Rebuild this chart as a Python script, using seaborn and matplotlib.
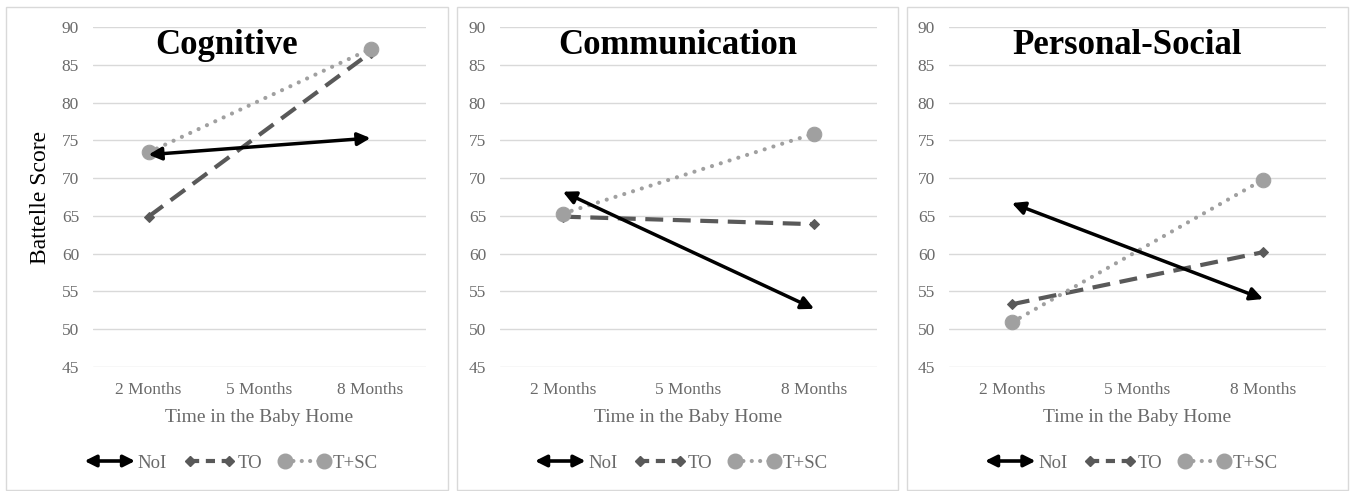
import matplotlib
matplotlib.use("Agg")
import matplotlib.pyplot as plt
import seaborn as sns
import pandas as pd
from matplotlib.lines import Line2D
from matplotlib.patches import FancyArrowPatch, Rectangle
from matplotlib.legend_handler import HandlerBase

# ---- data ----
months = ["2 Months", "5 Months", "8 Months"]
measured = ["2 Months", "8 Months"]
domains = ["Cognitive", "Communication", "Personal-Social"]
groups = ["NoI", "TO", "T+SC"]

noi = [[73.1, 75.3], [68.2, 52.7], [66.7, 54.0]]
to = [[64.9, 86.6], [64.9, 63.9], [53.3, 60.2]]
tsc = [[73.4, 87.1], [65.3, 75.9], [50.9, 69.8]]

yticks = list(range(45, 95, 5))

sns.set_theme(style="white")
plt.rcParams["font.family"] = ["Liberation Serif", "DejaVu Serif"]

W, H = 1351, 491
fig = plt.figure(figsize=(W / 100, H / 100), dpi=100)

c_noi, c_to, c_tsc = "black", "#595959", "#a0a0a0"
tick_col = "#6a6a6a"

axes_px = [(93, 426), (500, 877), (949, 1326)]
panel_px = [(6, 448), (457, 898), (907, 1348)]
top_px, bot_px = 27, 367


class ArrowHandler(HandlerBase):
    def create_artists(self, legend, orig_handle, xdescent, ydescent,
                       width, height, fontsize, trans):
        y = (height - ydescent) / 2
        a = FancyArrowPatch((-xdescent, y), (width - xdescent, y),
                            arrowstyle="<|-|>", mutation_scale=17, lw=2.6,
                            color=c_noi, shrinkA=0, shrinkB=0, transform=trans)
        return [a]


xpos = [months.index(m) for m in measured]

for i, dom in enumerate(domains):
    l, r = axes_px[i]
    ax = fig.add_axes([l / W, 1 - bot_px / H, (r - l) / W, (bot_px - top_px) / H])

    # panel frame
    pl, pr = panel_px[i]
    fig.patches.append(Rectangle((pl / W, 1 - 490 / H), (pr - pl) / W, 483 / H,
                                 transform=fig.transFigure, fill=False,
                                 edgecolor="#d9d9d9", lw=1.0))

    df_to = pd.DataFrame({"x": xpos, "y": to[i]})
    df_tsc = pd.DataFrame({"x": xpos, "y": tsc[i]})

    sns.lineplot(data=df_to, x="x", y="y", ax=ax, color=c_to, lw=3.0,
                 linestyle=(0, (4.3, 2.3)), marker="D", markersize=5.5,
                 markeredgecolor=c_to, markerfacecolor=c_to, zorder=3)
    sns.lineplot(data=df_tsc, x="x", y="y", ax=ax, color=c_tsc, lw=3.0,
                 linestyle=(0, (0.01, 2.2)), dash_capstyle="round",
                 marker="o", markersize=10.5, markeredgecolor=c_tsc,
                 markerfacecolor=c_tsc, zorder=4)
    ax.annotate("", xy=(xpos[1], noi[i][1]), xytext=(xpos[0], noi[i][0]),
                xycoords="data", textcoords="data",
                arrowprops=dict(arrowstyle="<|-|>", color=c_noi, lw=2.5,
                                mutation_scale=19, shrinkA=0, shrinkB=0),
                zorder=5)

    ax.set_xlim(-0.5, 2.5)
    ax.set_ylim(45, 90)
    ax.set_xticks(range(len(months)))
    ax.set_xticklabels(months)
    ax.set_yticks(yticks)
    ax.grid(axis="y", color="#d9d9d9", lw=1.0)
    ax.set_axisbelow(True)
    for s in ax.spines.values():
        s.set_visible(False)
    ax.tick_params(axis="both", length=0, labelsize=12.5, colors=tick_col)
    ax.tick_params(axis="y", pad=10)
    ax.tick_params(axis="x", pad=11)
    ax.set_xlabel("Time in the Baby Home", fontsize=14, color=tick_col, labelpad=8)
    if i == 0:
        ax.set_ylabel("Battelle Score", fontsize=17, color="black", labelpad=8)
    else:
        ax.set_ylabel("")

    cx = (pl + pr) / 2 / W
    fig.text(cx, 1 - 54 / H, dom, ha="center", va="baseline", fontsize=25,
             fontweight="bold", color="black")

    h_noi = Line2D([], [], color=c_noi, label="NoI")
    h_to = Line2D([], [], color=c_to, lw=3.0, linestyle=(0, (2.2, 1.6)),
                  marker="D", markersize=5.5, label="TO")
    h_tsc = Line2D([], [], color=c_tsc, lw=3.0, linestyle=(0, (0.01, 2.0)),
                   dash_capstyle="round", marker="o", markersize=10.5, label="T+SC")
    leg = ax.legend(handles=[h_noi, h_to, h_tsc], loc="center",
                    bbox_to_anchor=(cx + 4 / W, 1 - 463 / H), bbox_transform=fig.transFigure,
                    ncol=3, frameon=False, fontsize=13.5, numpoints=2,
                    handlelength=2.7, handletextpad=0.15, columnspacing=0.9,
                    handler_map={h_noi: ArrowHandler()})
    for t in leg.get_texts():
        t.set_color(tick_col)

fig.savefig("out.png", dpi=100)
